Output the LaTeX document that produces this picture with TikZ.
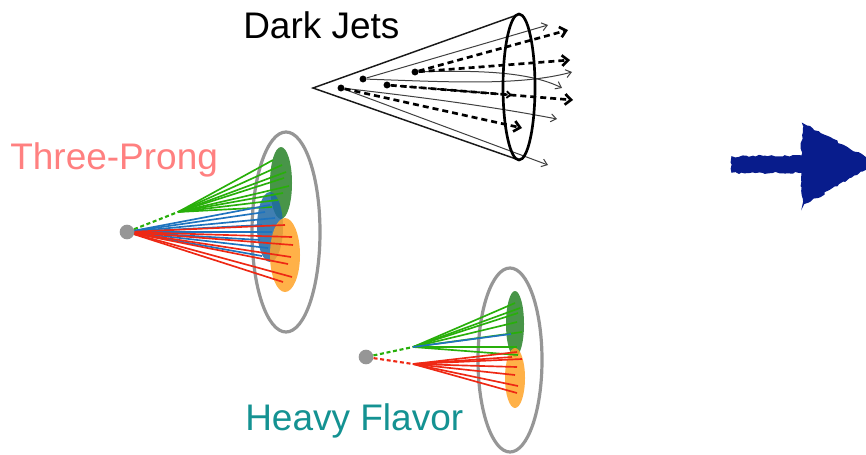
\documentclass[tikz,border=0pt]{standalone}
\usepackage{fontspec}
\setmainfont{Liberation Sans}
\usetikzlibrary{arrows.meta,shapes.geometric,decorations.pathmorphing}

\definecolor{prongred}{RGB}{255,128,128}
\definecolor{heavyteal}{RGB}{20,146,146}
\definecolor{trkgreen}{RGB}{40,175,10}
\definecolor{trkblue}{RGB}{30,115,190}
\definecolor{trkred}{RGB}{238,40,20}
\definecolor{blobgreen}{RGB}{40,130,40}
\definecolor{blobblue}{RGB}{30,105,165}
\definecolor{bloborange}{RGB}{255,163,40}
\definecolor{ringgray}{RGB}{150,150,150}
\definecolor{arrownavy}{RGB}{8,28,140}

\tikzset{
  label text/.style={anchor=base west, inner sep=0pt, font=\fontsize{27.75}{33}\selectfont},
  vtx/.style={circle, fill=black, inner sep=0pt, minimum size=5.2pt},
  hdot/.style={circle, fill=ringgray, inner sep=0pt, minimum size=11pt},
  cone/.style={line width=1.1pt, black!90},
  thintrk/.style={line width=0.75pt, black!75, -{Straight Barb[length=4pt,width=6pt]}},
  dashtrk/.style={line width=2pt, black, dash pattern=on 4.5pt off 3pt,
                  -{Straight Barb[length=4.5pt,width=8pt]}},
  dashsmall/.style={line width=1.4pt, black, dash pattern=on 4pt off 3pt,
                  -{Straight Barb[length=3pt,width=5pt]}},
  rim/.style={ellipse, draw=black, line width=2pt, inner sep=0pt},
  ring/.style={ellipse, draw=ringgray, line width=2.4pt, inner sep=0pt},
  blob/.style={ellipse, inner sep=0pt, fill opacity=0.85},
  gtrk/.style={trkgreen, line width=1.25pt},
  btrk/.style={trkblue, line width=1.25pt},
  rtrk/.style={trkred, line width=1.25pt},
  seed/.style={line width=1.6pt, dash pattern=on 3pt off 2pt},
}

\begin{document}
\begin{tikzpicture}[x=0.75pt,y=-0.75pt]
\useasboundingbox (0,0) rectangle (866,454);

% ---------------- dark jets ----------------
\node[label text] (djlabel) at (243,38) {Dark Jets};

\coordinate (apex) at (313,88);
\coordinate (rimtop) at (517,15);
\coordinate (rimbot) at (519,160);
\draw[cone] (rimtop) -- (apex) -- (rimbot);

\node[vtx] (d1) at (341,88) {};
\node[vtx] (d2) at (363,79) {};
\node[vtx] (d3) at (387,85) {};
\node[vtx] (d4) at (415,72) {};

\coordinate (t1) at (548,25);
\coordinate (t2) at (572,72);
\coordinate (t3) at (562,88);
\coordinate (t4) at (557,119);
\coordinate (t5) at (548,165);
\draw[thintrk] (d2) -- (t1);
\draw[thintrk] (d2) .. controls (450,82) and (520,86) .. (t2);
\draw[thintrk] (d4) .. controls (480,70) and (530,72) .. (t3);
\draw[thintrk] (d1) .. controls (430,98) and (500,108) .. (t4);
\draw[thintrk] (d1) -- (t5);

\coordinate (s1) at (568,30);
\coordinate (s2) at (570,60);
\coordinate (s3) at (573,100);
\coordinate (s4) at (512,95);
\coordinate (s5) at (522,128);
\draw[dashtrk] (d4) -- (s1);
\draw[dashtrk] (d4) -- (s2);
\draw[dashtrk] (d3) -- (s3);
\draw[dashsmall] (d3) -- (s4);
\draw[dashtrk] (d1) -- (s5);

\node[rim, minimum width=32*0.75pt, minimum height=146*0.75pt] (djrim) at (519,87) {};

% ---------------- three-prong ----------------
\node[label text, text=prongred] (tplabel) at (10,169) {Three-Prong};

\node[ring, minimum width=68*0.75pt, minimum height=200*0.75pt] (tpring) at (286,232) {};
\node[blob, fill=blobgreen, minimum width=22*0.75pt, minimum height=72*0.75pt] (tpgb) at (281,183) {};
\node[blob, fill=blobblue, minimum width=26*0.75pt, minimum height=70*0.75pt] (tpbb) at (270,227) {};
\node[blob, fill=bloborange, minimum width=30*0.75pt, minimum height=74*0.75pt] (tpob) at (285,255) {};

\node[hdot] (tp) at (127,232) {};
\coordinate (tpg) at (178,212);
\draw[seed, trkgreen] (tp) -- (tpg);
\foreach \ex/\ey [count=\i] in {273/160,282/165,286/172,284/178,289/186,283/193,278/200,272/207}
  \draw[gtrk] (tpg) -- (\ex,\ey) coordinate (tpge\i);
\foreach \ex/\ey [count=\i] in {270/205,265/212,275/218,262/225,272/232,260/240,268/248,262/256}
  \draw[btrk] (tp) -- (\ex,\ey) coordinate (tpbe\i);
\foreach \ex/\ey [count=\i] in {285/225,292/237,293/245,291/257,288/264,292/277,283/282}
  \draw[rtrk] (tp) -- (\ex,\ey) coordinate (tpre\i);

% ---------------- heavy flavor ----------------
\node[label text, text=heavyteal] (hflabel) at (245,430) {Heavy Flavor};

\node[ring, minimum width=64*0.75pt, minimum height=184*0.75pt] (hfring) at (510,360) {};
\node[blob, fill=blobgreen, minimum width=18*0.75pt, minimum height=66*0.75pt] (hfgb) at (515,324) {};
\node[blob, fill=bloborange, minimum width=20*0.75pt, minimum height=60*0.75pt] (hfob) at (515,378) {};

\node[hdot] (hf) at (366,357) {};
\coordinate (hfg) at (413,347);
\coordinate (hfr) at (413,364);
\draw[seed, trkgreen] (hf) -- (hfg);
\draw[seed, trkred] (hf) -- (hfr);
\foreach \ex/\ey [count=\i] in {515/303,520/308,518/313,517/322,522/332,517/347,518/355}
  \draw[gtrk] (hfg) -- (\ex,\ey) coordinate (hfge\i);
\draw[btrk] (hfg) -- (511,334) coordinate (hfbe);
\foreach \ex/\ey [count=\i] in {512/357,517/352,522/359,517/367,515/375,518/386,517/393}
  \draw[rtrk] (hfr) -- (\ex,\ey) coordinate (hfre\i);

% ---------------- hand-drawn arrow ----------------
\fill[arrownavy, draw=arrownavy, line width=1pt,
      decorate, decoration={random steps, segment length=2.5pt, amplitude=0.9pt}]
  (732,157) -- (802,156) -- (803,124) -- (866,158) -- (866,169) -- (803,205)
  -- (802,172) -- (732,172) -- cycle;

\end{tikzpicture}
\end{document}
